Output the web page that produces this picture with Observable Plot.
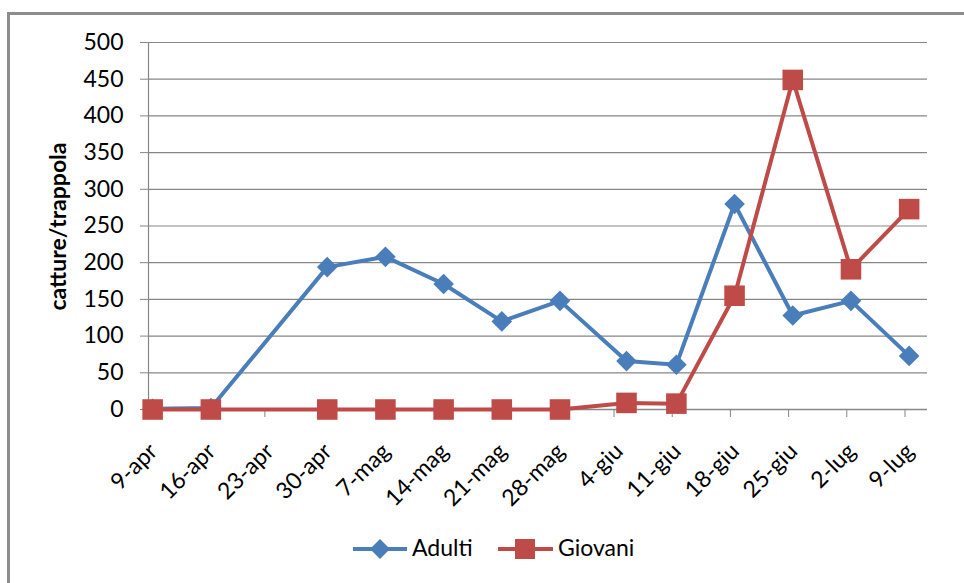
<!DOCTYPE html>
<html><head><meta charset="utf-8">
<script src="https://cdn.jsdelivr.net/npm/d3@7"></script>
<script src="https://cdn.jsdelivr.net/npm/@observablehq/plot@0.6"></script>
<style>
body{margin:0;background:#fff;}
#wrap{position:relative;width:964px;height:583px;overflow:hidden;font-family:Lato,sans-serif;background:#fff;}
#frame{position:absolute;left:7px;top:12px;width:980px;height:590px;border-left:3px solid #8c8c8c;border-top:3px solid #8c8c8c;}
#chart{position:absolute;left:0;top:0;}
.leg{position:absolute;top:0;}
.legtxt{position:absolute;font-size:23px;color:#000;line-height:1;}
#ytitle{position:absolute;font-weight:bold;font-size:23px;transform:rotate(-90deg);transform-origin:center center;white-space:nowrap;line-height:1;}
</style></head>
<body>
<div id="wrap">
<div id="frame"></div>
<div id="chart"></div>
<div id="ytitle">catture/trappola</div>
<svg class="leg" style="left:353px;top:538px" width="56" height="22"><line x1="0" y1="11" x2="54" y2="11" stroke="#4A7EBB" stroke-width="4"/><polygon points="27,1 37,11 27,21 17,11" fill="#4A7EBB"/></svg>
<div class="legtxt" style="left:412px;top:536px">Adulti</div>
<svg class="leg" style="left:498px;top:538px" width="56" height="22"><line x1="0" y1="11" x2="55" y2="11" stroke="#BE4B48" stroke-width="4"/><rect x="17" y="1" width="20" height="20" fill="#BE4B48"/></svg>
<div class="legtxt" style="left:558px;top:536px">Giovani</div>
</div>
<script>
// Axis tick dates and labels
const tickDates = ["2013-04-09","2013-04-16","2013-04-23","2013-04-30","2013-05-07","2013-05-14","2013-05-21","2013-05-28","2013-06-04","2013-06-11","2013-06-18","2013-06-25","2013-07-02","2013-07-09"];
const tickLabels = ["9-apr","16-apr","23-apr","30-apr","7-mag","14-mag","21-mag","28-mag","4-giu","11-giu","18-giu","25-giu","2-lug","9-lug"];
// Sampling dates
const sampleDates = ["2013-04-09","2013-04-16","2013-04-30","2013-05-07","2013-05-14","2013-05-21","2013-05-28","2013-06-05","2013-06-11","2013-06-18","2013-06-25","2013-07-02","2013-07-09"];
const adulti  = [1, 2, 194, 208, 171, 120, 148, 66, 61, 280, 128, 148, 73];
const giovani = [0, 0, 0, 0, 0, 0, 0, 9, 8, 155, 449, 191, 273];
const yTicks = [0,50,100,150,200,250,300,350,400,450,500];

const parse = d3.utcParse("%Y-%m-%d");
const mid = s => d3.utcHour.offset(parse(s), 12);
const dataA = sampleDates.map((d,i)=>({date: mid(d), v: adulti[i]}));
const dataG = sampleDates.map((d,i)=>({date: mid(d), v: giovani[i]}));
const tDates = tickDates.map(parse);
const labelOf = new Map(tDates.map((d,i)=>[+d, tickLabels[i]]));

const blue = "#4A7EBB", red = "#BE4B48", grid = "#868686";

const chart = Plot.plot({
  width: 964, height: 480,
  marginLeft: 148, marginRight: 37, marginTop: 42, marginBottom: 71,
  style: {fontFamily: "Lato, sans-serif", fontSize: "23px", background: "transparent", overflow: "visible"},
  x: {type: "utc", domain: [tDates[0], d3.utcHour.offset(parse("2013-07-11"), 17)]},
  y: {domain: [0, 500]},
  marks: [
    Plot.ruleY(yTicks.filter(d=>d>0), {stroke: grid, strokeWidth: 1.2}),
    Plot.ruleX([tDates[0]], {stroke: grid, strokeWidth: 1.2}),
    Plot.ruleY([0], {stroke: grid, strokeWidth: 1.6}),
    Plot.axisY({ticks: yTicks, tickSize: 8, tickPadding: 17, stroke: grid, fill: "#000", fontSize: 23, label: null}),
    Plot.axisX({ticks: tDates, tickSize: 8, text: null, stroke: grid, label: null}),
    Plot.axisX({ticks: tDates, tickFormat: d=>labelOf.get(+d), tickRotate: -45, tickSize: 0, tickPadding: 38, dx: 5, fill: "#000", fontSize: 23, label: null}),
    Plot.line(dataA, {x: "date", y: "v", stroke: blue, strokeWidth: 4, strokeLinejoin: "round"}),
    Plot.dot(dataA, {x: "date", y: "v", symbol: "diamond2", r: 9.3, fill: blue, stroke: null}),
    Plot.line(dataG, {x: "date", y: "v", stroke: red, strokeWidth: 4, strokeLinejoin: "round"}),
    Plot.dot(dataG, {x: "date", y: "v", symbol: "square", r: 11.6, fill: red, stroke: null})
  ]
});
document.getElementById("chart").appendChild(chart);

// position y title centered at (57, 226)
const yt = document.getElementById("ytitle");
const w = yt.offsetWidth, h = yt.offsetHeight;
yt.style.left = (57 - w/2) + "px";
yt.style.top = (226 - h/2) + "px";
</script>
</body></html>
